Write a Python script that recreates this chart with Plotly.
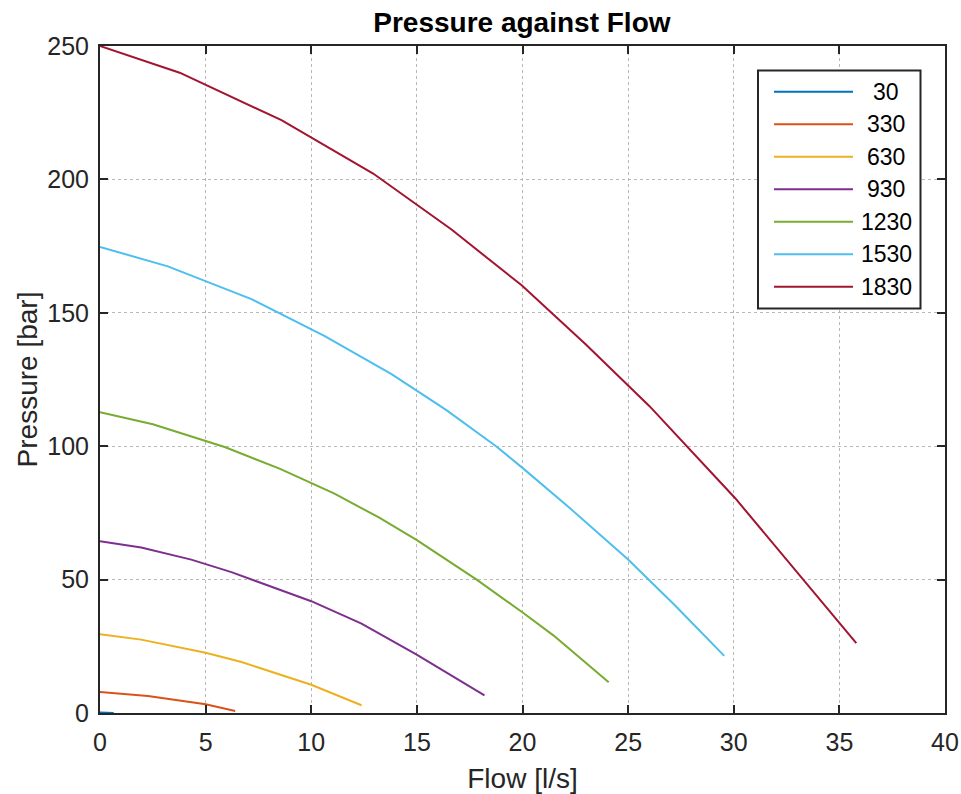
import plotly.graph_objects as go

# Pump pressure/flow characteristic curves, one per speed setting
speeds = ["30", "330", "630", "930", "1230", "1530", "1830"]
colors = ["#0072BD", "#D95319", "#EDB120", "#7E2F8E", "#77AC30", "#4DBEEE", "#A2142F"]

flow_30 = [0.0, 0.3, 0.65]
pres_30 = [0.15, 0.1, 0.02]

flow_330 = [0.0, 2.27, 5.0, 6.4]
pres_330 = [7.9, 6.4, 3.3, 0.75]

flow_630 = [0.0, 1.95, 5.0, 6.7, 10.0, 12.38]
pres_630 = [29.5, 27.5, 22.6, 19.1, 10.6, 2.9]

flow_930 = [0.0, 1.95, 4.32, 6.22, 10.0, 12.38, 14.99, 18.2]
pres_930 = [64.4, 62.0, 57.5, 52.8, 41.9, 33.5, 21.9, 6.6]

flow_1230 = [0.0, 2.5, 5.9, 8.5, 11.1, 13.2, 15.0, 17.83, 20.04, 21.46, 24.08]
pres_1230 = [112.7, 108.2, 99.7, 91.6, 82.2, 73.3, 64.8, 50.0, 37.5, 29.1, 11.5]

flow_1530 = [0.0, 3.21, 7.17, 10.64, 13.8, 16.4, 18.78, 20.04, 22.25, 25.0, 27.2, 29.55]
pres_1530 = [174.7, 167.4, 155.1, 141.3, 127.0, 113.5, 99.8, 91.6, 76.7, 57.5, 40.5, 21.4]

flow_1830 = [0.0, 3.77, 8.59, 12.93, 16.64, 19.96, 23.0, 26.0, 30.07, 33.3, 35.8]
pres_1830 = [250.0, 240.0, 222.2, 202.2, 181.2, 160.3, 138.1, 115.1, 80.5, 50.0, 26.2]

flows = [flow_30, flow_330, flow_630, flow_930, flow_1230, flow_1530, flow_1830]
pressures = [pres_30, pres_330, pres_630, pres_930, pres_1230, pres_1530, pres_1830]

x_ticks = [0, 5, 10, 15, 20, 25, 30, 35, 40]
y_ticks = [0, 50, 100, 150, 200, 250]

FONT = "Liberation Sans, Arial, Helvetica, sans-serif"
AXIS_COLOR = "#262626"

fig = go.Figure()
for name, color, q, p in zip(speeds, colors, flows, pressures):
    fig.add_trace(go.Scatter(x=q, y=p, mode="lines", name=name,
                             line=dict(color=color, width=2), showlegend=False))

axis_common = dict(
    showgrid=True, gridcolor="#b8b8b8", griddash="dot", gridwidth=1,
    showline=True, linecolor=AXIS_COLOR, linewidth=2, mirror="ticks",
    ticks="inside", ticklen=8, tickwidth=2, tickcolor=AXIS_COLOR,
    zeroline=False, automargin=False,
    tickfont=dict(family=FONT, size=25, color=AXIS_COLOR),
)

fig.update_xaxes(range=[0, 40], tickvals=x_ticks, ticklabelstandoff=6,
                 title=dict(text="Flow [l/s]", font=dict(family=FONT, size=28, color=AXIS_COLOR), standoff=14),
                 **axis_common)
fig.update_yaxes(range=[0, 250], tickvals=y_ticks, ticklabelstandoff=4,
                 title=dict(text="Pressure [bar]", font=dict(family=FONT, size=28, color=AXIS_COLOR), standoff=1),
                 **axis_common)

# Boxed legend in the upper-right corner: long line samples with centred labels
plot_w, plot_h = 845, 667
def px_x(px):
    return (px - 100) / plot_w
def px_y(py):
    return (713 - py) / plot_h

shapes = [dict(type="rect", xref="paper", yref="paper",
               x0=px_x(758), x1=px_x(920.5), y0=px_y(308.5), y1=px_y(70.5),
               line=dict(color=AXIS_COLOR, width=2), fillcolor="white", layer="above")]
annotations = []
row_gap = 32.5
for i, (name, color) in enumerate(zip(speeds, colors)):
    yy = px_y(91.7 + i * row_gap)
    shapes.append(dict(type="line", xref="paper", yref="paper",
                       x0=px_x(774), x1=px_x(853), y0=yy, y1=yy,
                       line=dict(color=color, width=2), layer="above"))
    annotations.append(dict(xref="paper", yref="paper", x=px_x(886), y=yy,
                            text=name, showarrow=False, xanchor="center", yanchor="middle",
                            font=dict(family=FONT, size=23, color="black")))

fig.update_layout(
    width=961, height=794,
    margin=dict(l=100, r=16, t=46, b=81),
    plot_bgcolor="white", paper_bgcolor="white",
    title=dict(text="<b>Pressure against Flow</b>", x=0.5431, xanchor="center",
               y=0.972, yanchor="middle",
               font=dict(family=FONT, size=28, color="black")),
    shapes=shapes, annotations=annotations,
    showlegend=False,
)

fig.write_html("out.html")
